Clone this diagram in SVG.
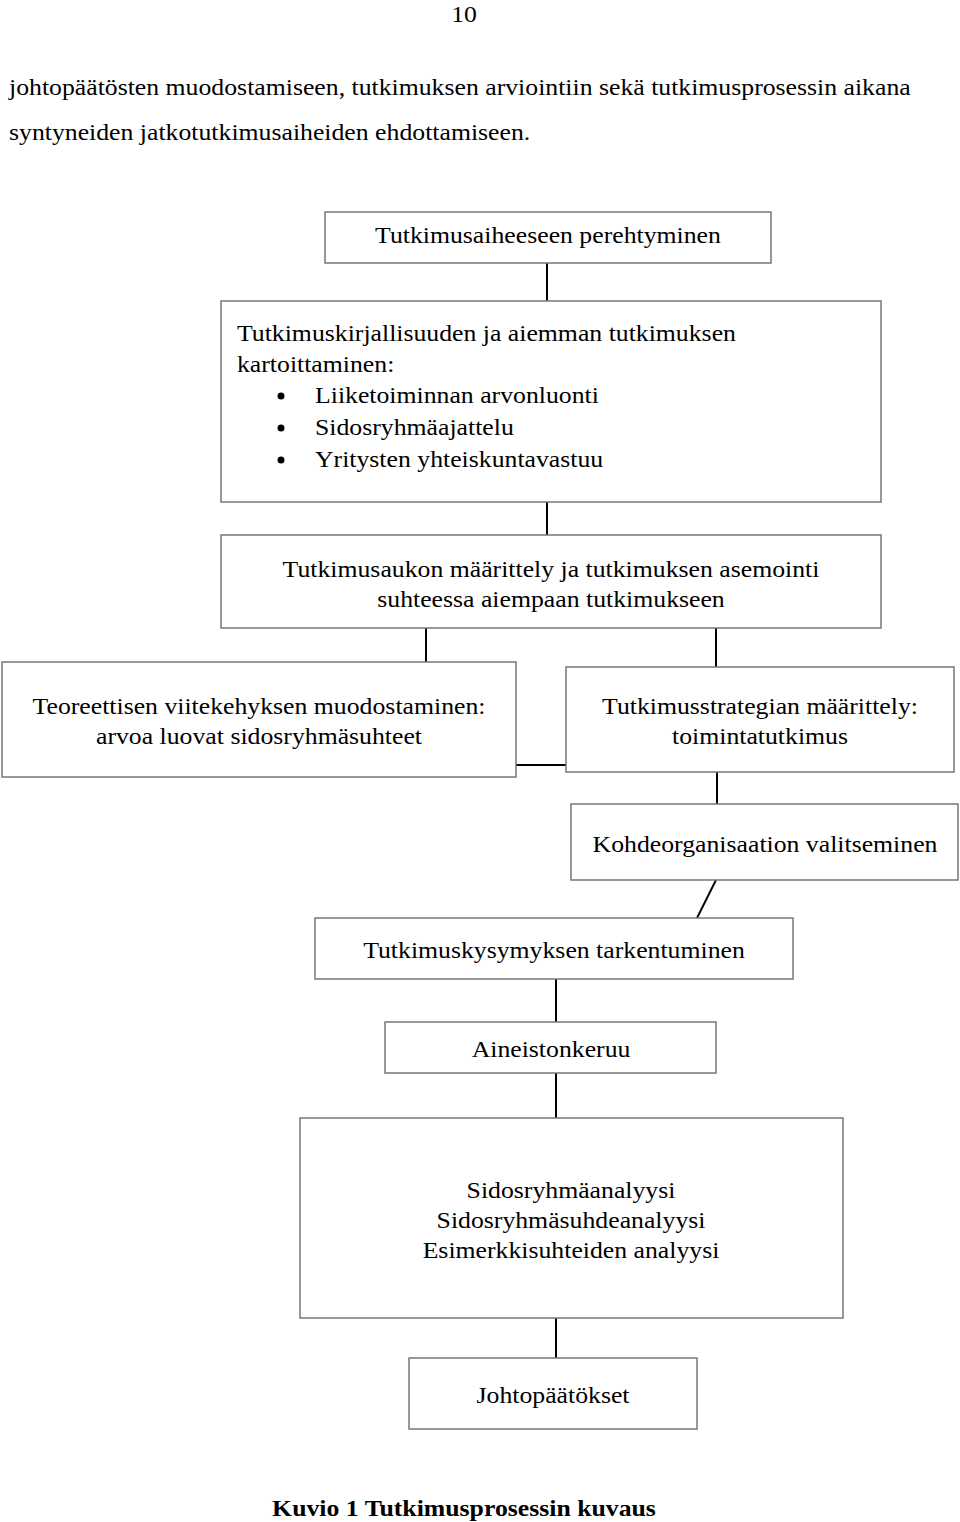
<svg xmlns="http://www.w3.org/2000/svg" width="960" height="1522" viewBox="0 0 960 1522">
<style>
.box{fill:#fff;stroke:#777;stroke-width:1.5}
.t{font-family:"Liberation Serif","Times New Roman",serif;font-size:23px;fill:#000}
.c{text-anchor:middle}
.ln{stroke:#000;stroke-width:2;fill:none}
</style>
<rect width="960" height="1522" fill="#fff"/>
<text class="t c" transform="translate(464 22) scale(1.12 1)">10</text>
<text class="t" transform="translate(9 95) scale(1.12 1)">johtopäätösten muodostamiseen, tutkimuksen arviointiin sekä tutkimusprosessin aikana</text>
<text class="t" transform="translate(9 140) scale(1.12 1)">syntyneiden jatkotutkimusaiheiden ehdottamiseen.</text>
<g id="connectors">
<line class="ln" x1="547" y1="263" x2="547" y2="301"/>
<line class="ln" x1="547" y1="502" x2="547" y2="535"/>
<line class="ln" x1="426" y1="628" x2="426" y2="662"/>
<line class="ln" x1="716" y1="628" x2="716" y2="667"/>
<line class="ln" x1="516" y1="765" x2="566" y2="765"/>
<line class="ln" x1="717" y1="772" x2="717" y2="804"/>
<line class="ln" x1="716" y1="880" x2="697" y2="918"/>
<line class="ln" x1="556" y1="979" x2="556" y2="1022"/>
<line class="ln" x1="556" y1="1073" x2="556" y2="1118"/>
<line class="ln" x1="556" y1="1318" x2="556" y2="1358"/>
</g>
<g id="n1"><rect class="box" x="325" y="212" width="446" height="51"/><text class="t c" transform="translate(548 243) scale(1.12 1)">Tutkimusaiheeseen perehtyminen</text></g>
<g id="n2"><rect class="box" x="221" y="301" width="660" height="201"/>
<text class="t" transform="translate(237 341) scale(1.12 1)">Tutkimuskirjallisuuden ja aiemman tutkimuksen</text>
<text class="t" transform="translate(237 372) scale(1.12 1)">kartoittaminen:</text>
<circle cx="281" cy="396" r="3.5"/><text class="t" transform="translate(315 403) scale(1.12 1)">Liiketoiminnan arvonluonti</text>
<circle cx="281" cy="428" r="3.5"/><text class="t" transform="translate(315 435) scale(1.12 1)">Sidosryhmäajattelu</text>
<circle cx="281" cy="460" r="3.5"/><text class="t" transform="translate(315 467) scale(1.12 1)">Yritysten yhteiskuntavastuu</text>
</g>
<g id="n3"><rect class="box" x="221" y="535" width="660" height="93"/><text class="t c" transform="translate(551 577) scale(1.12 1)">Tutkimusaukon määrittely ja tutkimuksen asemointi</text><text class="t c" transform="translate(551 607) scale(1.12 1)">suhteessa aiempaan tutkimukseen</text></g>
<g id="n4"><rect class="box" x="2" y="662" width="514" height="115"/><text class="t c" transform="translate(259 714) scale(1.12 1)">Teoreettisen viitekehyksen muodostaminen:</text><text class="t c" transform="translate(259 744) scale(1.12 1)">arvoa luovat sidosryhmäsuhteet</text></g>
<g id="n5"><rect class="box" x="566" y="667" width="388" height="105"/><text class="t c" transform="translate(760 714) scale(1.12 1)">Tutkimusstrategian määrittely:</text><text class="t c" transform="translate(760 744) scale(1.12 1)">toimintatutkimus</text></g>
<g id="n6"><rect class="box" x="571" y="804" width="387" height="76"/><text class="t c" transform="translate(765 852) scale(1.12 1)">Kohdeorganisaation valitseminen</text></g>
<g id="n7"><rect class="box" x="315" y="918" width="478" height="61"/><text class="t c" transform="translate(554 958) scale(1.12 1)">Tutkimuskysymyksen tarkentuminen</text></g>
<g id="n8"><rect class="box" x="385" y="1022" width="331" height="51"/><text class="t c" transform="translate(551 1057) scale(1.12 1)">Aineistonkeruu</text></g>
<g id="n9"><rect class="box" x="300" y="1118" width="543" height="200"/><text class="t c" transform="translate(571 1198) scale(1.12 1)">Sidosryhmäanalyysi</text><text class="t c" transform="translate(571 1228) scale(1.12 1)">Sidosryhmäsuhdeanalyysi</text><text class="t c" transform="translate(571 1258) scale(1.12 1)">Esimerkkisuhteiden analyysi</text></g>
<g id="n10"><rect class="box" x="409" y="1358" width="288" height="71"/><text class="t c" transform="translate(553 1403) scale(1.12 1)">Johtopäätökset</text></g>
<text class="t c" transform="translate(464 1516) scale(1.12 1)" font-weight="bold">Kuvio 1 Tutkimusprosessin kuvaus</text>
</svg>
